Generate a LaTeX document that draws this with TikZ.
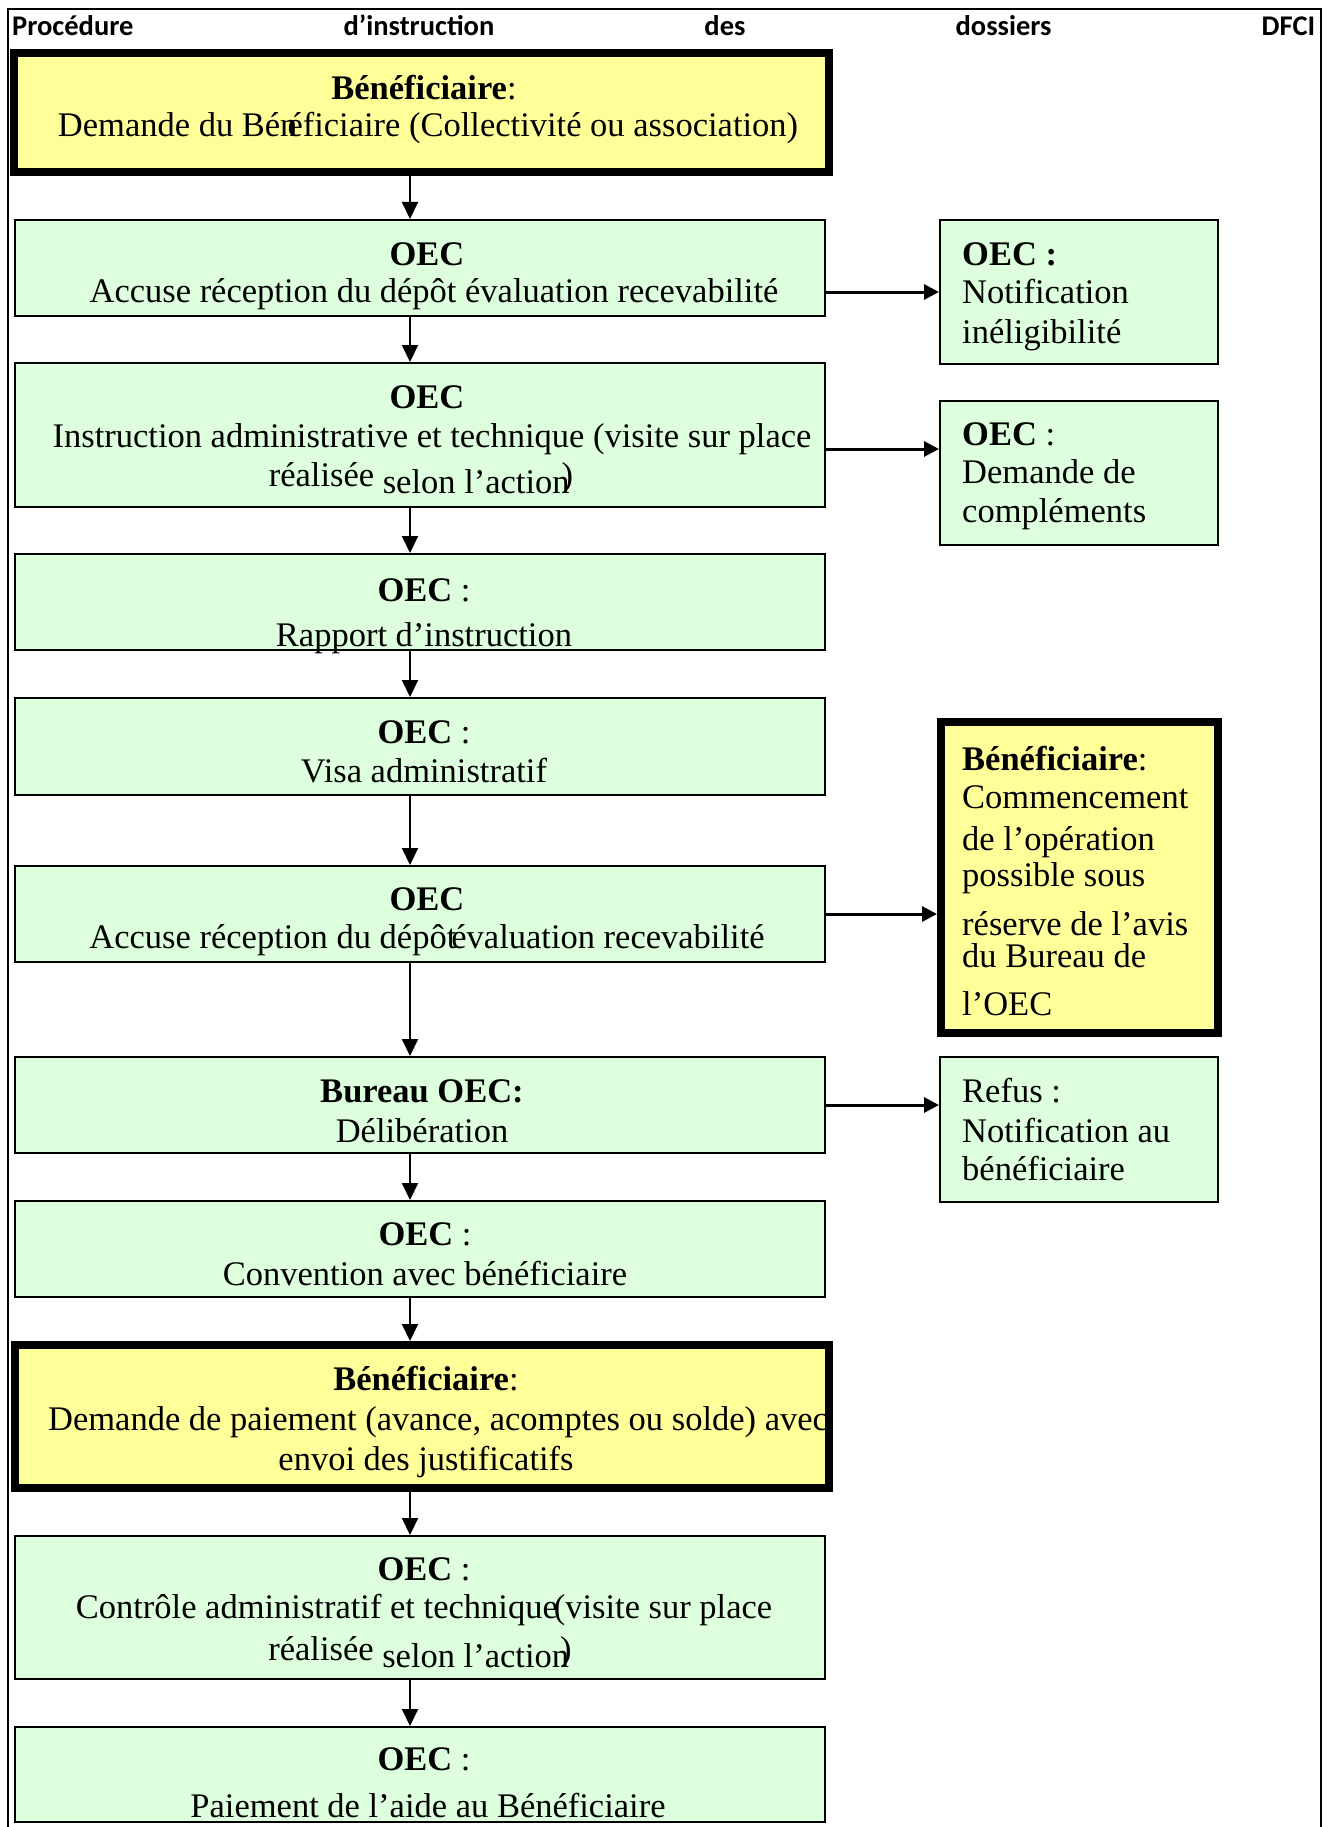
\documentclass[tikz,border=0pt]{standalone}
\usepackage{fontspec}
\setmainfont{Liberation Serif}
\newfontfamily\hdrfont{Carlito}
\usetikzlibrary{arrows.meta}
\definecolor{boxgreen}{RGB}{221,255,221}
\definecolor{boxyellow}{RGB}{255,255,153}
\begin{document}
\begin{tikzpicture}[x=1pt,y=-1pt,
  gbox/.style={draw=black, line width=2pt, fill=boxgreen, inner sep=0pt, rectangle},
  ybox/.style={draw=black, line width=8pt, fill=boxyellow, inner sep=0pt, rectangle},
  txt/.style={inner sep=0pt, align=center, anchor=base, font=\fontsize{34.5}{39}\selectfont},
  rtxt/.style={inner sep=0pt, align=left, anchor=base west, font=\fontsize{34.5}{39}\selectfont},
  varrow/.style={line width=2pt, -{Triangle[length=17pt,width=16pt]}},
  harrow/.style={line width=3pt, -{Triangle[length=15pt,width=15pt]}},
]
\useasboundingbox (0,0) rectangle (1329,1827);
\fill[white] (0,0) rectangle (1329,1827);
% outer frame
\draw[line width=2.5pt] (8,1830) -- (8,9) -- (1321,9) -- (1321,1830);
% header
\node[anchor=base west, inner sep=0pt, font=\hdrfont\bfseries\fontsize{28.5}{30}\selectfont] (hdr) at (12,36)
  {\makebox[1303pt][l]{Procédure\hfill d’instruction\hfill des\hfill dossiers\hfill DFCI}};
% main column boxes
\node[ybox, minimum width=815pt, minimum height=119pt] (b1) at (421.5,112.5) {};
\node[gbox, minimum width=810pt, minimum height=96pt] (b2) at (420,268) {};
\node[gbox, minimum width=810pt, minimum height=144pt] (b3) at (420,435) {};
\node[gbox, minimum width=810pt, minimum height=96pt] (b4) at (420,602) {};
\node[gbox, minimum width=810pt, minimum height=97pt] (b5) at (420,746.5) {};
\node[gbox, minimum width=810pt, minimum height=96pt] (b6) at (420,914) {};
\node[gbox, minimum width=810pt, minimum height=96pt] (b7) at (420,1105) {};
\node[gbox, minimum width=810pt, minimum height=96pt] (b8) at (420,1249) {};
\node[ybox, minimum width=814pt, minimum height=143pt] (b9) at (422,1416.5) {};
\node[gbox, minimum width=810pt, minimum height=143pt] (b10) at (420,1607.5) {};
\node[gbox, minimum width=810pt, minimum height=95pt] (b11) at (420,1774.5) {};
% right column boxes
\node[gbox, minimum width=278pt, minimum height=144pt] (r1) at (1079,292) {};
\node[gbox, minimum width=278pt, minimum height=144pt] (r2) at (1079,473) {};
\node[ybox, minimum width=277pt, minimum height=311pt] (r3) at (1079.5,877.5) {};
\node[gbox, minimum width=278pt, minimum height=145pt] (r4) at (1079,1129.5) {};
% texts main column (anchor = baseline of the last line)
\node[txt] (t1) at (428,137) {\textbf{Bénéficiaire}:\hspace*{8pt}\\[-2pt] Demande du Bén\kern-10pt éficiaire (Collectivité ou association)};
\node[txt] (t2) at (434,302) {\textbf{OEC}\hspace*{14pt}\\[-2pt] Accuse réception du dépôt évaluation recevabilité};
\node[txt] (t3) at (432,486) {\textbf{OEC}\hspace*{10pt}\\ Instruction administrative et technique (visite sur place\\ réalisée\raisebox{-7pt}{ selon l’action}\kern-8pt)\hspace*{22pt}};
\node[txt] (t4) at (424,646) {\textbf{OEC} :\\[6pt] Rapport d’instruction};
\node[txt] (t5) at (424,782) {\textbf{OEC} :\\ Visa administratif};
\node[txt] (t6) at (427,948) {\textbf{OEC}\\[-1pt] Accuse réception du dépôt\kern-5pt évaluation recevabilité};
\node[txt] (t7) at (422,1142) {\textbf{Bureau OEC:}\\[1pt] Délibération};
\node[txt] (t8) at (425,1285) {\textbf{OEC} :\\[1pt] Convention avec bénéficiaire};
\node[txt] (t9) at (426,1470) {\textbf{Bénéficiaire}:\\[1pt] \hspace*{24pt}Demande de paiement (avance, acomptes ou solde) avec\\[1pt] envoi des justificatifs};
\node[txt] (t10) at (424,1660) {\textbf{OEC} :\\[-1pt] Contrôle administratif et technique\kern-4pt(visite sur place\\[3pt] réalisée\raisebox{-7pt}{ selon l’action}\kern-9pt)\hspace*{8pt}};
\node[txt] (t11) at (428,1817) {\textbf{OEC} :\hspace*{8pt}\\[8pt] Paiement de l’aide au Bénéficiaire};
% texts right column
\node[rtxt] (s1) at (962,343) {\textbf{OEC :}\\[-1pt] Notification\\[1pt] inéligibilité};
\node[rtxt] (s2) at (962,522) {\textbf{OEC} :\\[-1pt] Demande de\\ compléments};
\node[rtxt] (s3) at (962,1015) {\textbf{Bénéficiaire}:\\[-1pt] Commencement\\[3pt] de l’opération\\[-3pt] possible sous\\[10pt] réserve de l’avis\\[-7pt] du Bureau de\\[9pt] l’OEC};
\node[rtxt] (s4) at (962,1180) {Refus :\\[1pt] Notification au\\[-1pt] bénéficiaire};
% right border of b9 drawn over its overflowing text
\draw[line width=8pt] ([xshift=-4pt]b9.north east) -- ([xshift=-4pt]b9.south east);
% connectors
\coordinate (ax) at (410,0);
\draw[varrow] (b1.south -| ax) -- (b2.north -| ax);
\draw[varrow] (b2.south -| ax) -- (b3.north -| ax);
\draw[varrow] (b3.south -| ax) -- (b4.north -| ax);
\draw[varrow] (b4.south -| ax) -- (b5.north -| ax);
\draw[varrow] (b5.south -| ax) -- (b6.north -| ax);
\draw[varrow] (b6.south -| ax) -- (b7.north -| ax);
\draw[varrow] (b7.south -| ax) -- (b8.north -| ax);
\draw[varrow] (b8.south -| ax) -- (b9.north -| ax);
\draw[varrow] (b9.south -| ax) -- (b10.north -| ax);
\draw[varrow] (b10.south -| ax) -- (b11.north -| ax);
\draw[harrow] (b2.east |- r1.west) -- (r1.west);
\draw[harrow] ([yshift=-14pt]b3.east) -- ([yshift=-14pt]b3.east -| r2.west);
\draw[harrow] (b6.east) -- (b6.east -| r3.west);
\draw[harrow] (b7.east) -- (b7.east -| r4.west);
\end{tikzpicture}
\end{document}
